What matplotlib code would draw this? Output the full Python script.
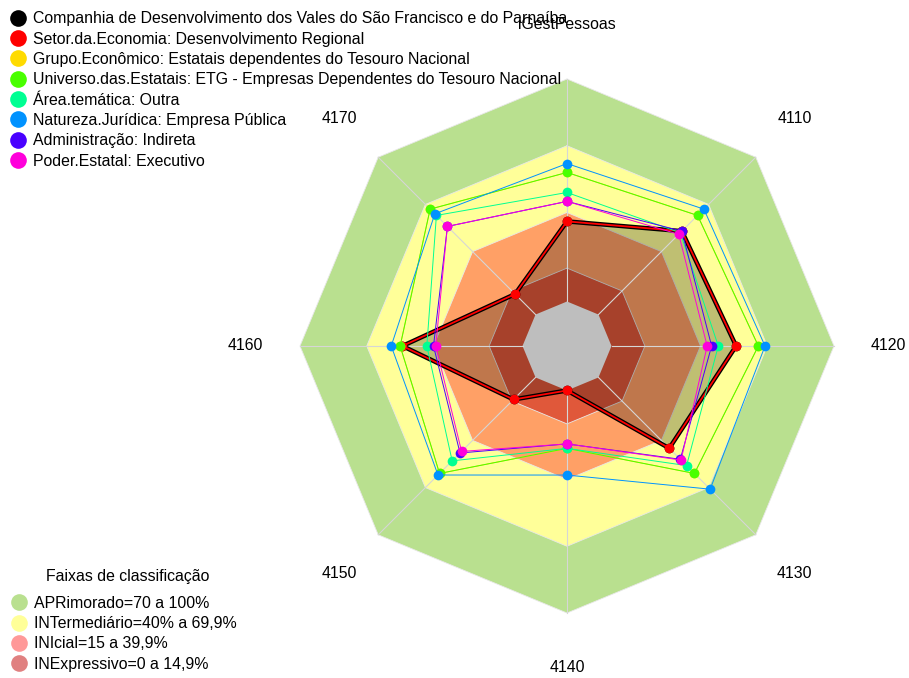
import numpy as np
import matplotlib
matplotlib.use("Agg")
import matplotlib.pyplot as plt
from matplotlib.lines import Line2D

plt.rcParams['font.family'] = ['Liberation Sans', 'DejaVu Sans']

# axes, clockwise from the top
categories = ['iGestPessoas', '4110', '4120', '4130', '4140', '4150', '4160', '4170']

series_names = [
    'Companhia de Desenvolvimento dos Vales do São Francisco e do Parnaíba',
    'Setor.da.Economia: Desenvolvimento Regional',
    'Grupo.Econômico: Estatais dependentes do Tesouro Nacional',
    'Universo.das.Estatais: ETG - Empresas Dependentes do Tesouro Nacional',
    'Área.temática: Outra',
    'Natureza.Jurídica: Empresa Pública',
    'Administração: Indireta',
    'Poder.Estatal: Executivo',
]
companhia = [36, 53, 56, 45, 0, 14, 54, 13]
setor = [36, 53, 56, 45, 0, 14, 54, 13]
grupo = [58, 63, 66, 61, 26, 61, 55, 67]
universo = [58, 63, 66, 61, 26, 61, 55, 67]
area = [49, 52, 48, 56, 26, 53, 43, 63]
natureza = [62, 67, 69, 71, 38, 62, 59, 64]
administracao = [45, 53, 45, 52, 24, 48, 40, 56]
poder = [45, 51, 43, 52.5, 24, 47, 39, 56]
all_series = [companhia, setor, grupo, universo, area, natureza, administracao, poder]
series_colors = ['#000000', '#FF0000', '#FFDB00', '#49FF00', '#00FF92', '#0092FF', '#4900FF', '#FF00DB']

band_title = 'Faixas de classificação'
band_labels = ['APRimorado=70 a 100%', 'INTermediário=40% a 69,9%',
               'INIcial=15 a 39,9%', 'INExpressivo=0 a 14,9%']
band_limits = [100, 70, 40, 15]
band_colors = ['#B9E08F', '#FFFF99', '#FFA066', '#E0583A']
center_color = '#BEBEBE'
band_legend_colors = ['#B9E08F', '#FFFF99', '#FF9999', '#E08080']

n = len(categories)
angles = np.pi / 2 - 2 * np.pi * np.arange(n) / n


def radius(v):
    # value 0 sits on a small inner octagon, like fmsb with seg=5
    return (1 + 5 * np.asarray(v, dtype=float) / 100) / 6


def xy(vals):
    r = radius(vals)
    x = r * np.cos(angles)
    y = r * np.sin(angles)
    return np.append(x, x[0]), np.append(y, y[0])


fig = plt.figure(figsize=(9.09, 6.78), dpi=100)
ax = fig.add_axes([0, 0, 1, 1])
W, H, cx, cy, R = 909, 678, 567, 346, 267
ax.set_xlim(-cx / R, (W - cx) / R)
ax.set_ylim(-(H - cy) / R, cy / R)
ax.set_aspect('equal')
ax.axis('off')

# classification bands
for lim, col in zip(band_limits, band_colors):
    bx, by = xy([lim] * n)
    ax.fill(bx, by, color=col, zorder=1, lw=0)
    ax.plot(bx, by, color='#E8E8E8', lw=0.6, zorder=1.5)

# first series gets a shaded area
fx, fy = xy(companhia)
ax.fill(fx, fy, color='black', alpha=0.25, lw=0, zorder=2)

# grey centre (value 0) stays on top of the shading
gx, gy = xy([0] * n)
ax.fill(gx, gy, color=center_color, lw=0, zorder=2.2)

# spokes
for a in angles:
    ax.plot([radius(0) * np.cos(a), np.cos(a)], [radius(0) * np.sin(a), np.sin(a)],
            color='#D6D6D6', lw=0.8, zorder=2.5)

widths = [3.2, 1.3, 0.7, 0.7, 0.7, 0.7, 0.7, 0.7]
for i, (vals, col) in enumerate(zip(all_series, series_colors)):
    sx, sy = xy(vals)
    ax.plot(sx, sy, color=col, lw=widths[i], zorder=3 + i)
    ax.plot(sx[:-1], sy[:-1], 'o', color=col, ms=7, mec='none', zorder=3 + i)

for a, lab in zip(angles, categories):
    ax.text(1.205 * np.cos(a), 1.205 * np.sin(a), lab, ha='center', va='center', fontsize=11.4)

handles = [Line2D([], [], marker='o', ls='', color=c, ms=12, mec='none') for c in series_colors]
leg1 = ax.legend(handles, series_names, loc='upper left', bbox_to_anchor=(0.0105, 0.9855),
                 bbox_transform=fig.transFigure, frameon=False, fontsize=11.4,
                 handlelength=0.9, handletextpad=0.5, labelspacing=0.335,
                 borderaxespad=0.0, borderpad=0.1)
ax.add_artist(leg1)

bhandles = [Line2D([], [], marker='o', ls='', color=c, ms=12, mec='none') for c in band_legend_colors]
ax.legend(bhandles, band_labels, loc='lower left', bbox_to_anchor=(0.0115, 0.007),
          bbox_transform=fig.transFigure, frameon=False, fontsize=11.4,
          handlelength=0.9, handletextpad=0.5, labelspacing=0.335,
          borderaxespad=0.0, borderpad=0.1)
fig.text(128 / W, 1 - 576 / H, band_title, ha='center', va='center', fontsize=11.4)

fig.savefig('out.png', dpi=100)
